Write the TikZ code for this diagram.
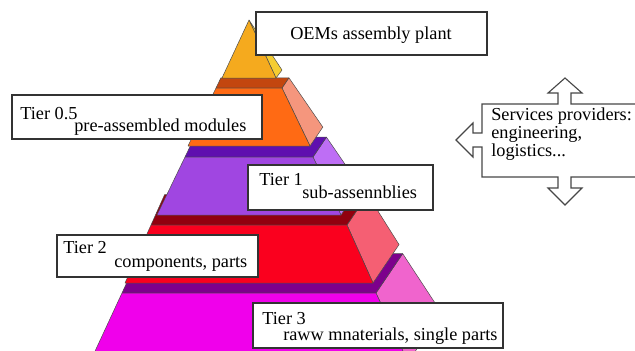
\documentclass[tikz,border=0pt]{standalone}
\usepackage{fontspec}
\setmainfont{Liberation Serif}
\usetikzlibrary{fit}

% slab colours: F front, T top, S side
\definecolor{oemF}{HTML}{F5AA1E}
\definecolor{oemS}{HTML}{F5CD32}
\definecolor{modF}{HTML}{FF6A14}
\definecolor{modT}{HTML}{C3460F}
\definecolor{modS}{HTML}{F5967D}
\definecolor{subF}{HTML}{A046E1}
\definecolor{subT}{HTML}{5F0FAF}
\definecolor{subS}{HTML}{BE6EF5}
\definecolor{cmpF}{HTML}{FA001E}
\definecolor{cmpT}{HTML}{91000F}
\definecolor{cmpS}{HTML}{F55F73}
\definecolor{rawF}{HTML}{F000EB}
\definecolor{rawT}{HTML}{7D008C}
\definecolor{rawS}{HTML}{F064CD}

% one slab: #1 colour prefix, #2 top y, #3 bottom y, #4 top half width, #5 bottom half width
\newcommand{\pyrslab}[5]{%
  \pgfmathsetmacro\wback{#4-(#5-#4)/(#3-#2)*0.31*#4}
  \filldraw[face, fill=#1S] (249+#4,#2) -- (249+#5,#3) -- (249+1.21*#5,#3-0.31*#5) -- (249+1.21*#4,#2-0.31*#4) -- cycle;
  \filldraw[face, fill=#1T] (249-#4,#2) -- (249+#4,#2) -- (249+1.21*#4,#2-0.31*#4) -- (249-\wback,#2-0.31*#4) -- cycle;
  \filldraw[face, fill=#1F] (249-#4,#2) -- (249+#4,#2) -- (249+#5,#3) -- (249-#5,#3) -- cycle;
}

\begin{document}
\begin{tikzpicture}[
    x=0.025cm, y=-0.025cm,
    font=\rmfamily\fontsize{13}{15}\selectfont,
    face/.style={draw=black!70, line width=0.35pt, line join=round},
    tagbox/.style={draw=black!80, line width=0.9pt, fill=white, inner sep=0pt},
    lbl/.style={inner sep=0pt, anchor=base west},
    svcline/.style={draw=black!72, line width=0.8pt, fill=white}
]
    \useasboundingbox (0,0) rectangle (635,350);
    \clip (0,0) rectangle (635,350);

    % Pyramid, bottom slab first
    \pyrslab{raw}{293}{362}{127}{159}
    \pyrslab{cmp}{225}{283}{98}{124}
    \pyrslab{sub}{157}{215}{64}{92}
    \pyrslab{mod}{88}{146}{33}{61}
    \filldraw[face, fill=oemS] (249,20) -- (276,78) -- (282,70) -- cycle;
    \filldraw[face, fill=oemF] (249,20) -- (276,78) -- (222,78) -- cycle;

    % Tier labels
    \node[tagbox, fit={(256,12) (487,55)}] (oem) {};
    \node[inner sep=0pt, anchor=base] (oemtext) at (371,39) {OEMs assembly plant};

    \node[tagbox, fit={(12,95) (262,139)}] (mod) {};
    \node[lbl] (modtier) at (20,119) {Tier 0.5};
    \node[lbl] (modtext) at (74,131) {pre-assembled modules};

    \node[tagbox, fit={(248,165) (433,210)}] (sub) {};
    \node[lbl] (subtier) at (259,185) {Tier 1};
    \node[lbl] (subtext) at (302,198) {sub-assennblies};

    \node[tagbox, fit={(57,235) (258,277)}] (cmp) {};
    \node[lbl] (cmptier) at (63,253) {Tier 2};
    \node[lbl] (cmptext) at (114,267) {components, parts};

    \node[tagbox, fit={(253,303) (503,348)}] (raw) {};
    \node[lbl] (rawtier) at (262,324) {Tier 3};
    \node[lbl] (rawtext) at (283,340) {raww mnaterials, single parts};

    % Services box with its three arrows
    \filldraw[svcline] (482,104) -- (558,104) -- (558,93) -- (548,93) -- (565,78) -- (582,93)
        -- (571,93) -- (571,104) -- (645,104) -- (645,177) -- (571,177) -- (571,188)
        -- (582,188) -- (565,205) -- (548,188) -- (558,188) -- (558,177) -- (482,177)
        -- (482,147) -- (473,147) -- (473,157) -- (456,140) -- (473,123) -- (473,133)
        -- (482,133) -- cycle;
    \node[lbl] (svc) at (491,120) {Services providers:};
    \node[lbl] (svceng) at (491,138) {engineering,};
    \node[lbl] (svclog) at (491,156) {logistics...};

\end{tikzpicture}
\end{document}
